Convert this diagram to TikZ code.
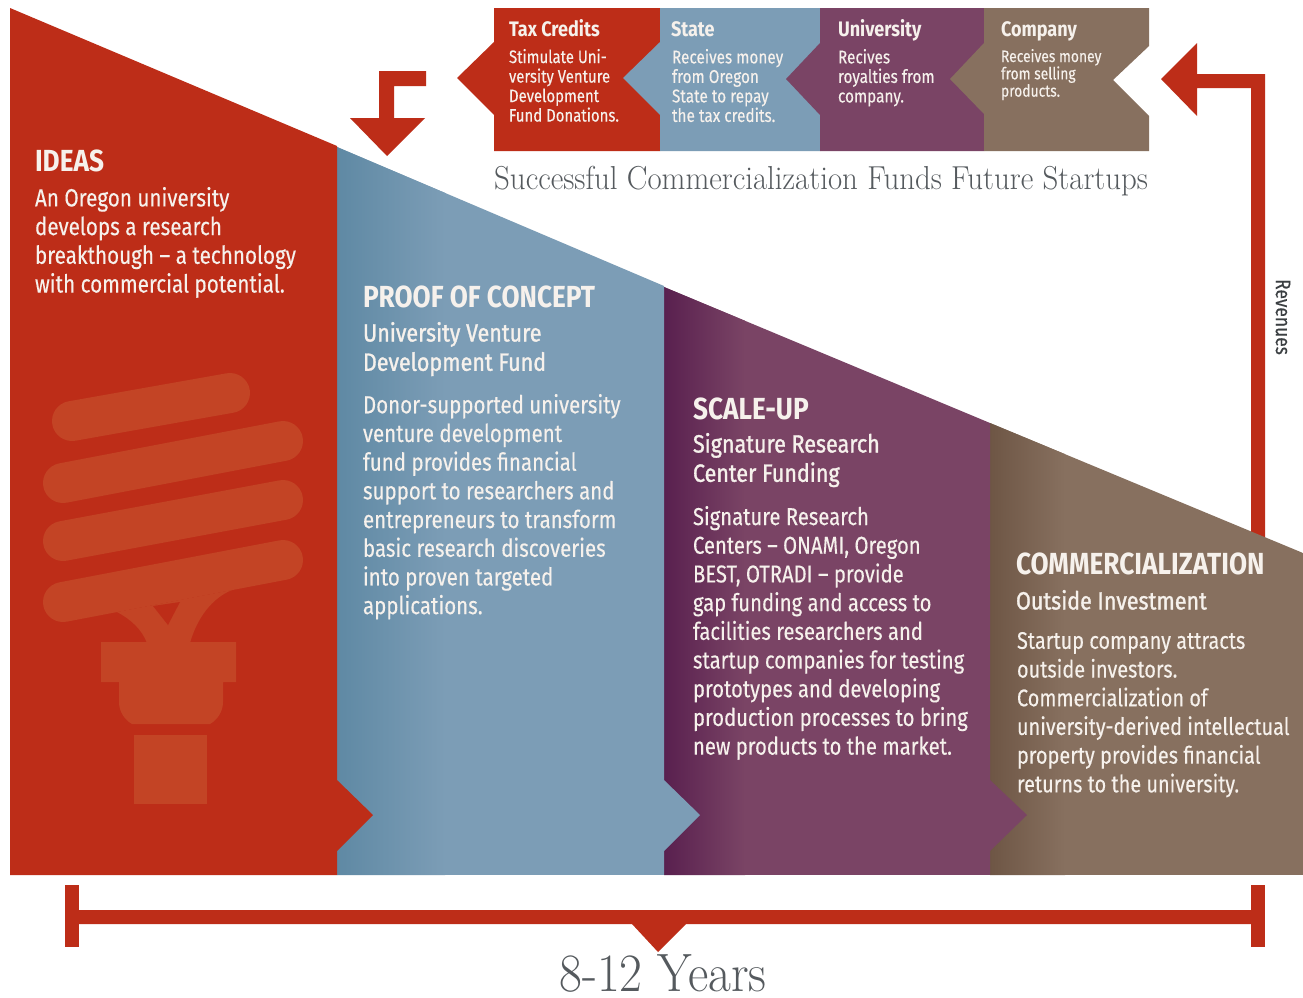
\documentclass[tikz,border=0pt]{standalone}
\usepackage{fontspec}
\setmainfont[FakeStretch=0.83,FakeBold=0.25]{Fira Sans}
\newfontfamily\subfont[FakeStretch=0.86,FakeBold=1.2]{Fira Sans}
\newfontfamily\headfont[FakeStretch=0.86,BoldFont={Fira Sans Bold}]{Fira Sans}
\newfontfamily\slabfont[FakeStretch=0.93]{Latin Modern Roman}
\newfontfamily\slabnarrow[FakeStretch=0.92]{Latin Modern Roman}
\definecolor{cred}{HTML}{BD2D18}
\definecolor{cbulb}{HTML}{C34425}
\definecolor{cblue}{HTML}{7C9DB6}
\definecolor{cblued}{HTML}{5F89A4}
\definecolor{cpurple}{HTML}{7A4465}
\definecolor{cpurpled}{HTML}{59204F}
\definecolor{cbrown}{HTML}{87705F}
\definecolor{cbrownd}{HTML}{6E5645}
\definecolor{ctxt}{HTML}{F6F1EC}
\definecolor{cgrey}{HTML}{555A5E}
\tikzset{
  lbl/.style={anchor=north west,inner sep=0pt,outer sep=0pt,align=left,text=ctxt},
  big/.style={lbl,font=\fontsize{30.5}{32}\headfont\bfseries},
  sub/.style={lbl,font=\fontsize{25}{29.3}\subfont},
  body/.style={lbl,font=\fontsize{24}{28.7}\selectfont},
  tophead/.style={lbl,anchor=base west,font=\fontsize{21}{24}\headfont\bfseries},
  topbody/.style={lbl,font=\fontsize{18}{19.5}\selectfont},
  bulbbar/.style={draw=cbulb,line width=40pt,line cap=round},
  flow/.style={fill=cred,draw=none},
}
\begin{document}
\begin{tikzpicture}[x=1pt,y=-1pt]
\useasboundingbox (0,0) rectangle (1303,997);
\fill[white] (0,0) rectangle (1303,997);
% feedback arrow behind the triangle
\fill[flow] (1265,540) -- (1265,74) -- (1197,74) -- (1197,43) -- (1161,79) -- (1197,116) -- (1197,88) -- (1251,88) -- (1251,540) -- cycle;
% brown
\begin{scope}
\clip (990,423) -- (1303,553) -- (1303,875) -- (990,875) -- cycle;
\fill[cbrown] (990,400) rectangle (1303,875);
\shade[left color=cbrownd,right color=cbrown,shading angle=90] (990,400) rectangle (1065,875);
\end{scope}
% purple
\begin{scope}
\clip (664,287) -- (990,423) -- (990,780) -- (1027,815) -- (990,851) -- (990,875) -- (664,875) -- cycle;
\fill[cpurple] (664,280) rectangle (1030,875);
\shade[left color=cpurpled,right color=cpurple,shading angle=90] (664,280) rectangle (745,875);
\end{scope}
% blue
\begin{scope}
\clip (337,147) -- (664,286) -- (664,780) -- (700,815) -- (664,851) -- (664,875) -- (337,875) -- cycle;
\fill[cblue] (337,140) rectangle (705,875);
\shade[left color=cblued,right color=cblue,shading angle=90] (337,140) rectangle (445,875);
\end{scope}
% red
\fill[cred] (10,8) -- (337,146) -- (337,780) -- (373,815) -- (337,851) -- (337,875) -- (10,875) -- cycle;
% bulb
\draw[bulbbar] (72,421) -- (230,393);
\draw[bulbbar] (63,483) -- (283,441);
\draw[bulbbar] (63,541) -- (283,500);
\draw[bulbbar] (63,602) -- (283,560);
\fill[cbulb] (117,612) .. controls (132,620) and (142,630) .. (147,643) -- (190,643) .. controls (197,618) and (212,598) .. (232,590) -- cycle;
\fill[cred] (153,606) -- (180,602) -- (168,625) -- cycle;
\fill[cbulb] (101,642) -- (236,642) -- (236,682) -- (223,682) -- (223,702) .. controls (223,712) and (217,720) .. (210,724) -- (132,724) .. controls (125,720) and (119,712) .. (119,702) -- (119,682) -- (101,682) -- cycle;
\fill[cbulb] (134,735) rectangle (207,804);
% top strip
\fill[cred] (494,8) -- (660,8) -- (660,151) -- (494,151) -- (494,115) -- (457,78) -- (494,42) -- cycle;
\fill[cblue] (660,8) -- (820,8) -- (820,151) -- (660,151) -- (660,115) -- (623,78) -- (660,42) -- cycle;
\fill[cpurple] (820,8) -- (984,8) -- (984,151) -- (820,151) -- (820,115) -- (786,79) -- (820,43) -- cycle;
\fill[cbrown] (984,8) -- (1149,8) -- (1149,46) -- (1113,80) -- (1149,116) -- (1149,151) -- (984,151) -- (984,114) -- (950,79) -- (984,43) -- cycle;
% down arrow
\fill[flow] (426,71) -- (379,71) -- (379,118) -- (350,118) -- (387,156) -- (425,118) -- (394,118) -- (394,86) -- (426,86) -- cycle;
% bracket
\fill[flow] (65,885) rectangle (79,947);
\fill[flow] (1251,885) rectangle (1265,947);
\fill[flow] (79,910) -- (1251,910) -- (1251,924) -- (686,924) -- (658,952) -- (632,924) -- (79,924) -- cycle;
% top texts
\node[tophead] (t1h) at (509,36) {Tax Credits};
\node[topbody] (t1b) at (509,49) {Stimulate Uni-\\versity Venture\\Development\\Fund Donations.};
\node[tophead] (t2h) at (671,36) {State};
\node[topbody,font=\fontsize{18.5}{19.5}\selectfont] (t2b) at (672,49) {Receives money\\from Oregon\\State to repay\\the tax credits.};
\node[tophead] (t3h) at (838,36) {University};
\node[topbody,font=\fontsize{18.5}{19.5}\selectfont] (t3b) at (838,49) {Recives\\royalties from\\company.};
\node[tophead] (t4h) at (1001,36) {Company};
\node[lbl,font=\fontsize{16.7}{17.3}\selectfont] (t4b) at (1001,49) {Receives money\\from selling\\products.};
\node[anchor=base west,inner sep=0pt,text=cgrey,font=\fontsize{33.2}{36}\slabfont] (strap) at (494,189) {Successful Commercialization Funds Future Startups};
% panels
\node[big] (h1) at (35,150) {IDEAS};
\node[body,font=\fontsize{24.9}{28.7}\selectfont] (b1) at (35,187) {An Oregon university\\develops a research\\breakthough -- a technology\\with commercial potential.};
\node[big] (h2) at (363,286) {PROOF OF CONCEPT};
\node[sub] (s2) at (363,322) {University Venture\\Development Fund};
\node[body,font=\fontsize{24.7}{28.7}\selectfont] (b2) at (363,394) {Donor-supported university\\venture development\\fund provides financial\\support to researchers and\\entrepreneurs to transform\\basic research discoveries\\into proven targeted\\applications.};
\node[big] (h3) at (693,398) {SCALE-UP};
\node[sub] (s3) at (693,433) {Signature Research\\Center Funding};
\node[body,font=\fontsize{24.4}{28.7}\selectfont] (b3) at (693,506) {Signature Research\\Centers -- ONAMI, Oregon\\BEST, OTRADI -- provide\\gap funding and access to\\facilities researchers and\\startup companies for testing\\prototypes and developing\\production processes to bring\\new products to the market.};
\node[big] (h4) at (1016,553) {COMMERCIALIZATION};
\node[sub] (s4) at (1016,590) {Outside Investment};
\node[body] (b4) at (1017,632) {Startup company attracts\\outside investors.\\Commercialization of\\university-derived intellectual\\property provides financial\\returns to the university.};
\node[inner sep=0pt,rotate=-90,text=cgrey!70!black,font=\fontsize{21}{24}\selectfont] (rev) at (1283,317) {Revenues};
\node[anchor=base,inner sep=0pt,text=cgrey,font=\fontsize{54}{58}\slabnarrow] (yrs) at (663,991) {8-12 Years};
\end{tikzpicture}
\end{document}
